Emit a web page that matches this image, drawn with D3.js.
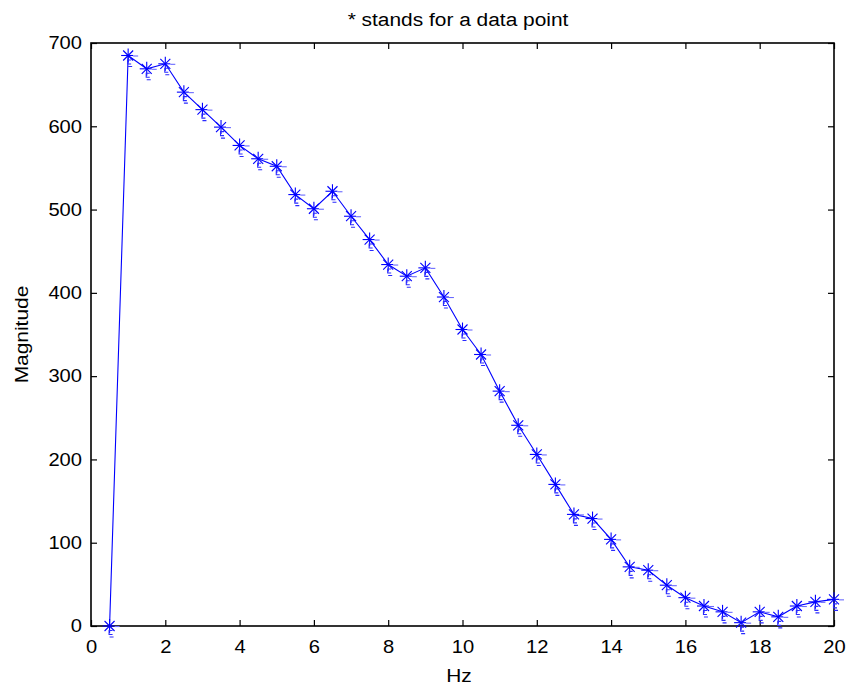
<!DOCTYPE html>
<html>
<head>
<meta charset="utf-8">
<script src="https://cdn.jsdelivr.net/npm/d3@7"></script>
<style>
  html, body { margin: 0; padding: 0; background: #fff; }
  svg { display: block; font-family: "Liberation Sans", Arial, sans-serif; }
</style>
</head>
<body>
<svg id="chart" width="850" height="689"></svg>
<script>
// Frequency (Hz) and magnitude samples
const freqs = [0.5, 1, 1.5, 2, 2.5, 3, 3.5, 4, 4.5, 5, 5.5, 6, 6.5, 7, 7.5, 8, 8.5, 9, 9.5, 10,
               10.5, 11, 11.5, 12, 12.5, 13, 13.5, 14, 14.5, 15, 15.5, 16, 16.5, 17, 17.5, 18, 18.5, 19, 19.5, 20];
const magnitudes = [0, 685, 669, 675, 641, 620, 599, 577, 561, 552, 518, 501, 522, 492, 464, 434, 420, 430, 395, 356,
                    326, 282, 241, 206, 170, 134, 129, 104, 71, 67, 49, 34, 24, 17, 4, 17, 11, 24, 29, 32];
const xTicks = [0, 2, 4, 6, 8, 10, 12, 14, 16, 18, 20];
const yTicks = [0, 100, 200, 300, 400, 500, 600, 700];

const titleText = "* stands for a data point";
const xLabel = "Hz";
const yLabel = "Magnitude";

const svg = d3.select("#chart");
const plotLeft = 91, plotRight = 834, plotTop = 43, plotBottom = 626;

const x = d3.scaleLinear().domain([0, 20]).range([plotLeft, plotRight]);
const y = d3.scaleLinear().domain([0, 700]).range([plotBottom, plotTop]);

const tickLen = 6;
const tickFont = 18;
const labelFont = 19;
const stretch = 1.12; // slightly wide lettering

// Bottom axis (ticks pointing inward)
const gx = svg.append("g").attr("transform", `translate(0,${plotBottom})`)
  .call(d3.axisBottom(x).tickValues(xTicks).tickFormat(d3.format("d"))
        .tickSizeInner(-tickLen).tickSizeOuter(0).tickPadding(14));
gx.selectAll("text").attr("font-size", tickFont).attr("fill", "#000")
  .attr("transform", `scale(${stretch},1)`);

// Top axis (ticks only)
svg.append("g").attr("transform", `translate(0,${plotTop})`)
  .call(d3.axisTop(x).tickValues(xTicks).tickFormat("")
        .tickSizeInner(-tickLen).tickSizeOuter(0));

// Left axis
const gy = svg.append("g").attr("transform", `translate(${plotLeft},0)`)
  .call(d3.axisLeft(y).tickValues(yTicks).tickFormat(d3.format("d"))
        .tickSizeInner(-tickLen).tickSizeOuter(0).tickPadding(8));
gy.selectAll("text").attr("font-size", tickFont).attr("fill", "#000")
  .attr("transform", `scale(${stretch},1)`);

// Right axis (ticks only)
svg.append("g").attr("transform", `translate(${plotRight},0)`)
  .call(d3.axisRight(y).tickValues(yTicks).tickFormat("")
        .tickSizeInner(-tickLen).tickSizeOuter(0));

svg.selectAll(".domain").remove();
svg.selectAll(".tick line").attr("stroke", "#000").attr("stroke-width", 1.2);

// Axes box
svg.append("rect")
  .attr("x", plotLeft).attr("y", plotTop)
  .attr("width", plotRight - plotLeft).attr("height", plotBottom - plotTop)
  .attr("fill", "none").attr("stroke", "#000").attr("stroke-width", 1.6);

const data = freqs.map((f, i) => ({ f, m: magnitudes[i] }));

// Connecting line
svg.append("path")
  .datum(data)
  .attr("fill", "none")
  .attr("stroke", "#0000ff")
  .attr("stroke-width", 1.1)
  .attr("d", d3.line().x(d => x(d.f)).y(d => y(d.m)));

// Asterisk markers
const rv = 7, rd = 5;
const markers = svg.append("g").attr("fill", "none").attr("stroke-width", 1.1);
const m = markers.selectAll("g").data(data).join("g")
  .attr("transform", d => `translate(${x(d.f)},${y(d.m)})`);
m.append("line").attr("stroke", "#0000ff").attr("x1", -7).attr("x2", 5).attr("y1", 0).attr("y2", 0);
m.append("line").attr("stroke", "#6a6aff").attr("x1", 5).attr("x2", 10).attr("y1", 0.5).attr("y2", 0.5);
m.append("line").attr("stroke", "#0000ff").attr("x1", 0).attr("x2", 0).attr("y1", -rv).attr("y2", rv);
m.append("line").attr("stroke", "#0000ff").attr("x1", -rd).attr("x2", rd).attr("y1", -rd).attr("y2", rd);
m.append("line").attr("stroke", "#0000ff").attr("x1", -rd).attr("x2", rd).attr("y1", rd).attr("y2", -rd);
m.append("path").attr("stroke", "#2a2aff").attr("d", "M3,4.5H-0.5V8.5H3M0,11H4");

// Title and axis labels
svg.append("text")
  .attr("transform", `translate(458,26) scale(${stretch - 0.02},1)`)
  .attr("text-anchor", "middle").attr("font-size", labelFont).attr("fill", "#000")
  .text(titleText);

svg.append("text")
  .attr("transform", `translate(459,682) scale(${stretch - 0.02},1)`)
  .attr("text-anchor", "middle").attr("font-size", labelFont).attr("fill", "#000")
  .text(xLabel);

svg.append("text")
  .attr("transform", `translate(28,${(plotTop + plotBottom) / 2}) rotate(-90) scale(${stretch - 0.02},1)`)
  .attr("text-anchor", "middle").attr("font-size", labelFont).attr("fill", "#000")
  .text(yLabel);
</script>
</body>
</html>
